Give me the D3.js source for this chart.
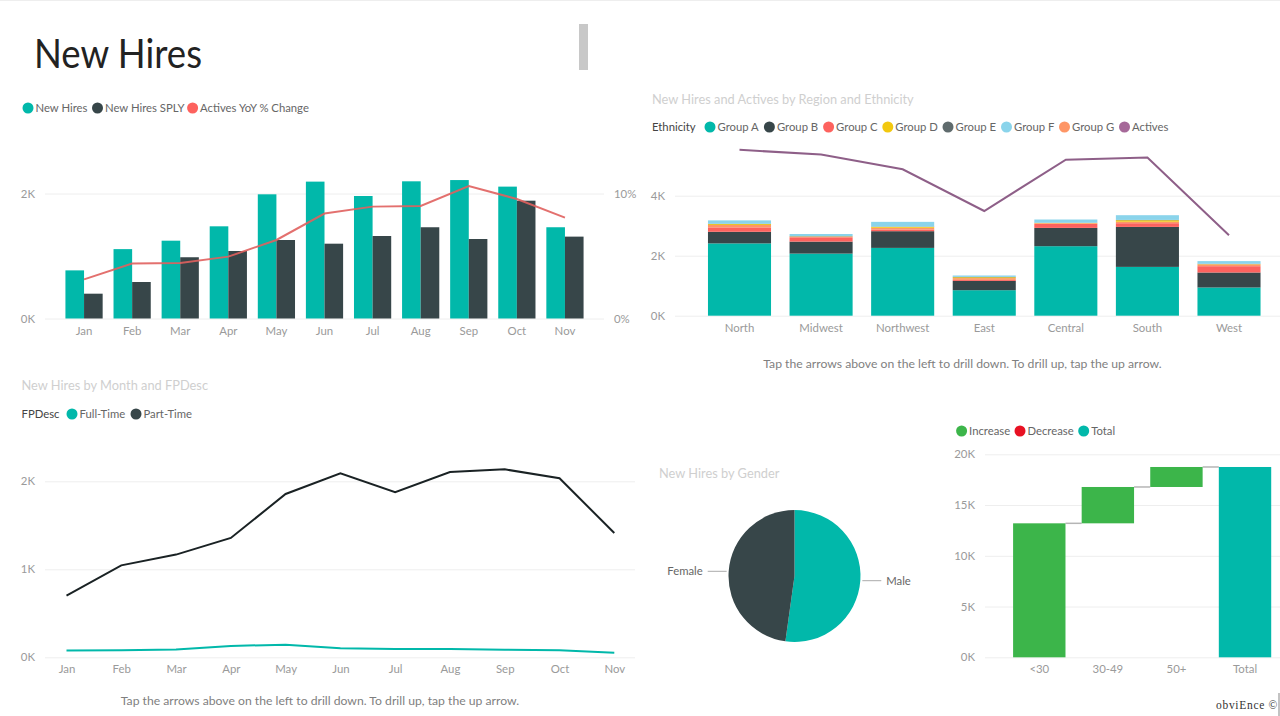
<!DOCTYPE html>
<html>
<head>
<meta charset="utf-8">
<script src="https://cdn.jsdelivr.net/npm/d3@7"></script>
<style>
    html, body { margin: 0; padding: 0; background: #fff; }
    svg { display: block; }
    text { font-family: Lato, "Open Sans", sans-serif; }
    .tick text { fill: #9a9a9a; font-size: 11.4px; }
    .tick line { stroke: #eeeeee; }
    .title { fill: #cfcfcf; font-size: 12.8px; }
    .note { fill: #7f7f7f; font-size: 12.2px; }
    .leg { fill: #666; font-size: 11.3px; }
    .legHead { fill: #444; font-size: 11.3px; }
</style>
</head>
<body>
<svg id="page" width="1280" height="716"></svg>
<script>
// top left combo
const months = ["Jan", "Feb", "Mar", "Apr", "May", "Jun", "Jul", "Aug", "Sep", "Oct", "Nov"];
const newHires = [0.77, 1.11, 1.245, 1.475, 1.987, 2.19, 1.96, 2.195, 2.215, 2.11, 1.46];
const newHiresSply = [0.397, 0.584, 0.98, 1.08, 1.256, 1.197, 1.32, 1.46, 1.272, 1.885, 1.31];
const activesYoy = [3.13, 4.4, 4.44, 4.95, 6.28, 8.4, 8.95, 9.0, 10.6, 9.56, 8.07];
const comboTicks = [0, 2];
const yoyTicks = [0, 10];

// top right stacked bars, stack order is how the segments look in the picture
const regions = ["North", "Midwest", "Northwest", "East", "Central", "South", "West"];
const groupA = [2.41, 2.07, 2.26, 0.85, 2.317, 1.627, 0.94];
const groupB = [0.387, 0.4, 0.557, 0.31, 0.61, 1.333, 0.5];
const groupC = [0.147, 0.143, 0.057, 0.033, 0.133, 0.123, 0.21];
const groupD = [0.03, 0.01, 0.03, 0.03, 0.01, 0.05, 0.01];
const groupE = [0.01, 0.01, 0.01, 0.01, 0.005, 0.01, 0.01];
const groupF = [0.113, 0.07, 0.157, 0.047, 0.108, 0.157, 0.09];
const groupG = [0.08, 0.02, 0.057, 0.06, 0.023, 0.05, 0.06];
const actives = [5.53, 5.37, 4.88, 3.49, 5.2, 5.27, 2.68];
const regionTicks = [0, 2, 4];

// bottom left lines
const partTime = [0.7, 1.045, 1.167, 1.356, 1.856, 2.09, 1.875, 2.106, 2.136, 2.034, 1.413];
const fullTime = [0.076, 0.08, 0.09, 0.129, 0.144, 0.102, 0.095, 0.095, 0.087, 0.08, 0.053];
const lineTicks = [0, 1, 2];

// pie
const genders = ["Male", "Female"];
const genderShare = [52.2, 47.8];

// waterfall
const ageBands = ["<30", "30-49", "50+", "Total"];
const ageIncrease = [13.2, 3.58, 1.97];
const waterfallTicks = [0, 5, 10, 15, 20];

const TEAL = "#01b8aa", DARK = "#374649", RED = "#fd625e", YELLOW = "#f2c80f",
      GREY = "#5f6b6d", BLUE = "#8ad4eb", ORANGE = "#fe9666", PURPLE = "#a66999",
      GREEN = "#3cb54a", DECR = "#e81123";

let svg = d3.select("#page");
let kFormat = d => d + "K";

function label(text, x, y, cls, anchor) {
    return svg.append("text").attr("x", x).attr("y", y).attr("class", cls)
        .attr("text-anchor", anchor || "start").text(text);
}

// legend entries are [text, colour, circle x]
function legend(entries, y) {
    let g = svg.append("g");
    entries.forEach(e => {
        g.append("circle").attr("cx", e[2]).attr("cy", y).attr("r", 5.5).attr("fill", e[1]);
        g.append("text").attr("x", e[2] + 7.5).attr("y", y + 4).attr("class", "leg").text(e[0]);
    });
}

function yAxis(scale, ticks, x, gridW, format) {
    let g = svg.append("g").attr("transform", "translate(" + x + ",0)")
        .call(d3.axisLeft(scale).tickValues(ticks).tickFormat(format).tickSize(-gridW).tickPadding(10));
    g.select(".domain").remove();
    return g;
}

function xAxis(scale, y) {
    let g = svg.append("g").attr("transform", "translate(0," + y + ")")
        .call(d3.axisBottom(scale).tickSize(0).tickPadding(8));
    g.select(".domain").remove();
    g.selectAll(".tick text").attr("dy", "0.71em");
    return g;
}

function addCombo() {
    let x = d3.scaleBand().domain(months).range([60, 589]).paddingInner(0.226).paddingOuter(0.113);
    let y = d3.scaleLinear().domain([0, 2]).range([318.5, 193.5]);
    let y2 = d3.scaleLinear().domain([0, 10]).range([318.5, 193.5]);

    yAxis(y, comboTicks, 45, 559, kFormat);
    let right = svg.append("g").attr("transform", "translate(604,0)")
        .call(d3.axisRight(y2).tickValues(yoyTicks).tickFormat(d => d + "%").tickSize(0).tickPadding(10));
    right.select(".domain").remove();
    xAxis(x, 318.5);

    let half = x.bandwidth() / 2;
    svg.append("g").selectAll("rect").data(newHires).enter().append("rect")
        .attr("x", (d, i) => x(months[i]))
        .attr("y", d => y(d))
        .attr("width", half)
        .attr("height", d => y(0) - y(d))
        .attr("fill", TEAL);
    svg.append("g").selectAll("rect").data(newHiresSply).enter().append("rect")
        .attr("x", (d, i) => x(months[i]) + half)
        .attr("y", d => y(d))
        .attr("width", half)
        .attr("height", d => y(0) - y(d))
        .attr("fill", DARK);

    let line = d3.line().x((d, i) => x(months[i]) + half).y(d => y2(d));
    svg.append("path").attr("d", line(activesYoy)).attr("fill", "none")
        .attr("stroke", "#e0605e").attr("stroke-width", 2).attr("stroke-opacity", 0.9);

    legend([["New Hires", TEAL, 28], ["New Hires SPLY", DARK, 97.5], ["Actives YoY % Change", RED, 192.6]], 108);
}

function addRegions() {
    let x = d3.scaleBand().domain(regions).range([698.75, 1269.75]).paddingInner(0.227).paddingOuter(0.113);
    let y = d3.scaleLinear().domain([0, 4]).range([315.7, 195.7]);

    yAxis(y, regionTicks, 675, 605, kFormat);
    xAxis(x, 315.7);

    let series = [[groupA, TEAL], [groupB, DARK], [groupC, RED], [groupG, ORANGE],
                  [groupD, YELLOW], [groupE, GREY], [groupF, BLUE]];
    let rows = regions.map((r, i) => series.map(s => s[0][i]));
    let stack = d3.stack().keys(series.map((s, i) => i));
    stack(rows).forEach((layer, k) => {
        svg.append("g").selectAll("rect").data(layer).enter().append("rect")
            .attr("x", (d, i) => x(regions[i]))
            .attr("y", d => y(d[1]))
            .attr("width", x.bandwidth())
            .attr("height", d => y(d[0]) - y(d[1]))
            .attr("fill", series[k][1]);
    });

    let line = d3.line().x((d, i) => x(regions[i]) + x.bandwidth() / 2).y(d => y(d));
    svg.append("path").attr("d", line(actives)).attr("fill", "none")
        .attr("stroke", "#8e5f88").attr("stroke-width", 2);

    label("New Hires and Actives by Region and Ethnicity", 652, 104, "title");
    label("Ethnicity", 652, 131, "legHead");
    legend([["Group A", TEAL, 710], ["Group B", DARK, 769.4], ["Group C", RED, 828.6], ["Group D", YELLOW, 887.8],
            ["Group E", GREY, 948], ["Group F", BLUE, 1006.5], ["Group G", ORANGE, 1064.5], ["Actives", PURPLE, 1124.5]], 127);
    label("Tap the arrows above on the left to drill down. To drill up, tap the up arrow.", 962.5, 368, "note", "middle");
}

function addLines() {
    let x = d3.scalePoint().domain(months).range([66.5, 614.3]);
    let y = d3.scaleLinear().domain([0, 2]).range([657.3, 481.3]);

    yAxis(y, lineTicks, 45, 590, kFormat);
    xAxis(x, 657.3);

    let line = d3.line().x((d, i) => x(months[i])).y(d => y(d));
    svg.append("path").attr("d", line(fullTime)).attr("fill", "none").attr("stroke", TEAL).attr("stroke-width", 2);
    svg.append("path").attr("d", line(partTime)).attr("fill", "none").attr("stroke", "#1a2224").attr("stroke-width", 2);

    label("New Hires by Month and FPDesc", 21.5, 390, "title");
    label("FPDesc", 21.5, 418, "legHead");
    legend([["Full-Time", TEAL, 72], ["Part-Time", DARK, 136]], 414);
    label("Tap the arrows above on the left to drill down. To drill up, tap the up arrow.", 320, 705, "note", "middle");
}

function addPie() {
    let g = svg.append("g").attr("transform", "translate(794.5,576)");
    let arcs = d3.pie().sort(null)(genderShare);
    let arc = d3.arc().innerRadius(0).outerRadius(66);
    let lineFrom = d3.arc().innerRadius(68).outerRadius(68);
    let lineTo = d3.arc().innerRadius(87).outerRadius(87);
    let labelAt = d3.arc().innerRadius(92).outerRadius(92);

    g.selectAll("path").data(arcs).enter().append("path")
        .attr("d", arc)
        .attr("fill", (d, i) => i == 0 ? TEAL : DARK);

    arcs.forEach((d, i) => {
        let a = lineFrom.centroid(d), b = lineTo.centroid(d), c = labelAt.centroid(d);
        g.append("line").attr("x1", a[0]).attr("y1", a[1]).attr("x2", b[0]).attr("y2", a[1]).attr("stroke", "#aaa");
        g.append("text").attr("x", c[0]).attr("y", a[1] + 4)
            .attr("text-anchor", i == 0 ? "start" : "end")
            .attr("class", "leg").text(genders[i]);
    });

    label("New Hires by Gender", 659, 478, "title");
}

function addWaterfall() {
    let x = d3.scaleBand().domain(ageBands).range([1005, 1279.3]).paddingInner(0.236).paddingOuter(0.118);
    let y = d3.scaleLinear().domain([0, 20]).range([657.3, 454.3]);

    yAxis(y, waterfallTicks, 985, 295, kFormat);
    xAxis(x, 657.3);

    let ends = d3.cumsum(ageIncrease);
    let total = ends[ends.length - 1];

    // connector from top of each bar to the next one
    svg.append("g").selectAll("line").data(ends).enter().append("line")
        .attr("x1", (d, i) => x(ageBands[i]) + x.bandwidth())
        .attr("x2", (d, i) => x(ageBands[i + 1]))
        .attr("y1", d => y(d))
        .attr("y2", d => y(d))
        .attr("stroke", "#b5b5b5")
        .attr("stroke-width", 1.5);

    svg.append("g").selectAll("rect").data(ageIncrease).enter().append("rect")
        .attr("x", (d, i) => x(ageBands[i]))
        .attr("y", (d, i) => y(ends[i]))
        .attr("width", x.bandwidth())
        .attr("height", d => y(0) - y(d))
        .attr("fill", GREEN);

    svg.append("rect")
        .attr("x", x("Total"))
        .attr("y", y(total))
        .attr("width", x.bandwidth())
        .attr("height", y(0) - y(total))
        .attr("fill", TEAL);

    legend([["Increase", GREEN, 961.6], ["Decrease", DECR, 1020], ["Total", TEAL, 1083.7]], 431);
}

function addPageBits() {
    svg.append("rect").attr("width", 1280).attr("height", 1).attr("fill", "#eeeeee");
    svg.append("rect").attr("x", 579).attr("y", 24).attr("width", 9).attr("height", 46).attr("fill", "#c8c8c8");
    svg.append("text").attr("x", 34).attr("y", 68).attr("font-size", 40)
        .attr("textLength", 168).attr("lengthAdjust", "spacingAndGlyphs")
        .attr("fill", "#222").text("New Hires");
    svg.append("text").attr("x", 1216).attr("y", 709).attr("font-size", 11.5)
        .style("font-family", "'Liberation Serif', serif").attr("letter-spacing", 0.7)
        .attr("fill", "#333").text("obviEnce ©");
    svg.append("rect").attr("x", 1278.5).attr("y", 693).attr("width", 1).attr("height", 23).attr("fill", "#888");
}

addPageBits();
addCombo();
addRegions();
addLines();
addPie();
addWaterfall();
</script>
</body>
</html>
